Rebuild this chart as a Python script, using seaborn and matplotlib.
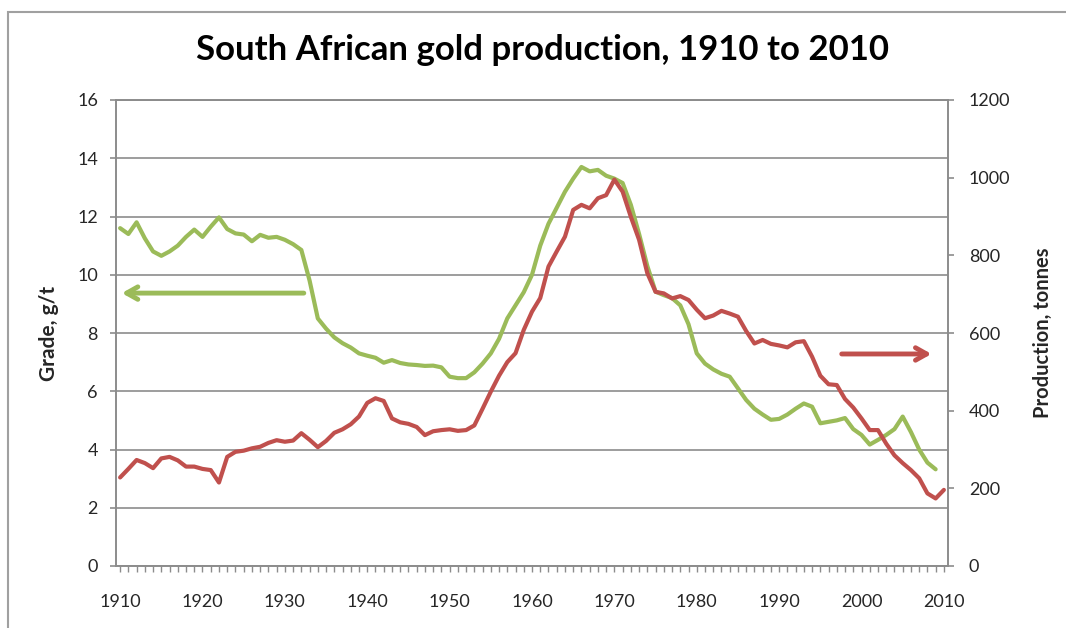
import numpy as np
import pandas as pd
import seaborn as sns
import matplotlib.pyplot as plt
from matplotlib.patches import Rectangle
from matplotlib.ticker import MultipleLocator

# ============================ DATA ====================================

YEARS = list(range(1910, 2011))

# Ore grade, g/t (series stops in 2009)
GRADE = [11.6, 11.4, 11.8, 11.25, 10.8, 10.65, 10.8, 11.0, 11.3, 11.55,
         11.3, 11.65, 11.97, 11.57, 11.42, 11.38, 11.15, 11.37, 11.27, 11.3,
         11.2, 11.05, 10.85, 9.8, 8.5, 8.15, 7.85, 7.65, 7.5, 7.3,
         7.22, 7.15, 6.98, 7.07, 6.97, 6.92, 6.9, 6.87, 6.88, 6.82,
         6.5, 6.45, 6.45, 6.65, 6.95, 7.3, 7.8, 8.5, 8.95, 9.4,
         10.0, 11.0, 11.75, 12.3, 12.85, 13.3, 13.7, 13.55, 13.6, 13.4,
         13.3, 13.15, 12.4, 11.4, 10.3, 9.42, 9.3, 9.2, 8.95, 8.3,
         7.3, 6.95, 6.75, 6.6, 6.5, 6.1, 5.7, 5.4, 5.2, 5.02,
         5.05, 5.2, 5.4, 5.58, 5.47, 4.9, 4.95, 5.0, 5.08, 4.7,
         4.5, 4.17, 4.33, 4.5, 4.7, 5.13, 4.6, 4.0, 3.55, 3.32]

# Gold production, tonnes
PRODUCTION = [228, 250, 273, 265, 252, 277, 281, 272, 256, 256,
              250, 247, 215, 281, 294, 297, 303, 307, 317, 324,
              320, 323, 342, 325, 306, 322, 343, 352, 365, 385,
              420, 432, 425, 380, 370, 366, 358, 337, 347, 350,
              352, 348, 350, 362, 405, 449, 490, 525, 548, 608,
              655, 690, 771, 810, 848, 917, 930, 921, 947, 955,
              995, 964, 899, 840, 754, 706, 702, 689, 695, 685,
              660, 638, 645, 657, 650, 642, 605, 573, 582, 572,
              568, 563, 576, 579, 539, 490, 468, 466, 430, 408,
              380, 350, 350, 315, 285, 265, 247, 226, 187, 174,
              196]

GREEN = '#9BBB59'
RED = '#C0504D'
GRID = '#8c8c8c'
TEXT = '#262626'

# ============================ PLOT ====================================

sns.set_style('white')
plt.rcParams['font.family'] = ['Lato', 'DejaVu Sans']

W, H = 1066, 628
fig = plt.figure(figsize=(W / 100, H / 100), dpi=100)
ax = fig.add_axes([116 / W, 1 - 566 / H, (948 - 116) / W, (566 - 100) / H])
ax2 = ax.twinx()

grade_df = pd.DataFrame({'year': YEARS[:len(GRADE)], 'grade': GRADE})
prod_df = pd.DataFrame({'year': YEARS, 'production': PRODUCTION})

sns.lineplot(data=grade_df, x='year', y='grade', ax=ax, color=GREEN,
             linewidth=3, solid_joinstyle='round')
sns.lineplot(data=prod_df, x='year', y='production', ax=ax2, color=RED,
             linewidth=3, solid_joinstyle='round')

ax.set_xlim(1909.5, 2010.5)
ax.set_ylim(0, 16)
ax2.set_ylim(0, 1200)
ax.set_yticks(range(0, 17, 2))
ax2.set_yticks(range(0, 1201, 200))
ax.xaxis.set_major_locator(MultipleLocator(10))
ax.xaxis.set_minor_locator(MultipleLocator(1))

ax.grid(axis='y', color=GRID, linewidth=1.2)
ax.grid(axis='x', visible=False)
ax.set_axisbelow(True)

for a in (ax, ax2):
    for s in a.spines.values():
        s.set_color(GRID)
        s.set_linewidth(1.2)

ax.tick_params(axis='y', which='major', length=4, width=1.2, color=GRID,
               labelsize=13, labelcolor=TEXT, pad=9, left=True)
ax2.tick_params(axis='y', which='major', length=4, width=1.2, color=GRID,
                labelsize=13, labelcolor=TEXT, pad=11, right=True)
ax.tick_params(axis='x', which='both', length=4, width=1.0, color=GRID,
               bottom=True, labelsize=13, labelcolor=TEXT, pad=16)

ax.set_xlabel('')
ax.set_ylabel('Grade, g/t', fontweight='bold', fontsize=15, color=TEXT)
ax.yaxis.set_label_coords((59 - 116) / 832, 0.5)
ax2.set_ylabel('Production, tonnes', fontweight='bold', fontsize=14.5,
               color=TEXT)
ax2.yaxis.set_label_coords((1033 - 116) / 832, 0.5)

# Direction arrows pointing to each series' axis
ax.annotate('', xy=(1910.2, 9.37), xytext=(1932.3, 9.37),
            arrowprops=dict(arrowstyle='->,head_length=0.8,head_width=0.45',
                            color=GREEN, lw=3.5, shrinkA=0, shrinkB=0))
ax.annotate('', xy=(2008.5, 7.28), xytext=(1997.6, 7.28),
            arrowprops=dict(arrowstyle='->,head_length=0.8,head_width=0.45',
                            color=RED, lw=3.5, shrinkA=0, shrinkB=0))

fig.text(543 / W, 1 - 50 / H, 'South African gold production, 1910 to 2010',
         ha='center', va='center', fontsize=25, fontweight='bold',
         color='black')

# Chart area border
fig.patches.append(Rectangle((8 / W, -0.1), 1.2, 1.1 - 12 / H,
                             transform=fig.transFigure, fill=False,
                             edgecolor='#a0a0a0', linewidth=1.5))

fig.savefig('out.png', dpi=100)
